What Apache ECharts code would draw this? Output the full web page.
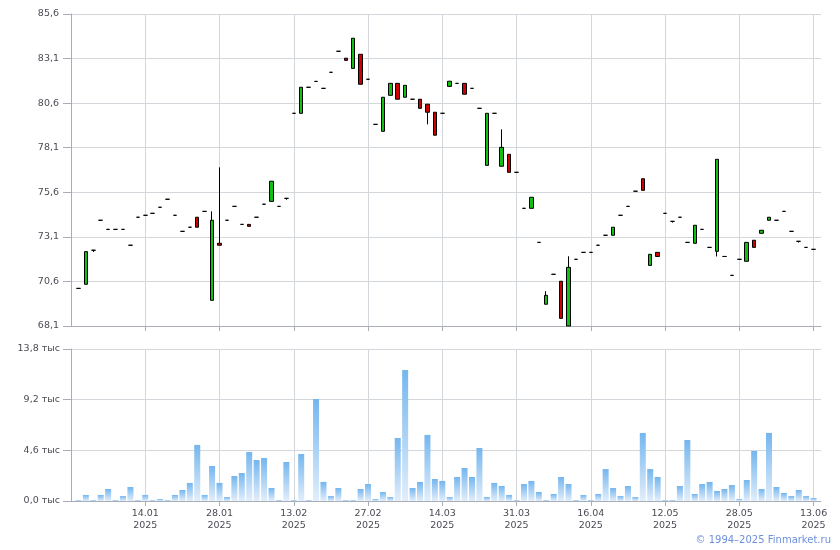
<!DOCTYPE html>
<html>
<head>
<meta charset="utf-8">
<script src="https://cdn.jsdelivr.net/npm/echarts@6/dist/echarts.min.js"></script>
<style>html,body{margin:0;padding:0;background:#fff;}#c{width:840px;height:550px;}</style>
</head>
<body>
<div id="c"></div>
<script>
// x tick labels (every 10th trading day, starting at day index 9)
const tickLabels = ['14.01','28.01','13.02','27.02','14.03','31.03','16.04','12.05','28.05','13.06'];
const tickYear = '2025';
const tickStart = 9, tickStep = 10;

// daily candles (100 trading days)
const openP = [70.21,70.44,72.35,74.03,73.52,73.52,73.52,72.63,74.20,74.31,
  74.42,74.76,75.21,74.31,73.41,73.64,74.20,74.53,69.54,72.74,
  74.03,74.81,73.80,73.80,74.20,74.93,75.09,74.81,75.26,80.03,
  80.03,81.49,81.82,81.43,82.33,83.51,83.12,82.55,83.34,81.94,
  79.41,79.02,81.04,81.71,80.93,80.82,80.82,80.54,80.09,80.03,
  81.54,81.71,81.71,81.43,80.31,77.11,80.03,77.06,77.73,76.72,
  74.70,74.70,72.79,69.32,71.00,70.61,68.10,71.84,72.23,72.23,
  72.63,73.19,73.19,74.31,74.81,75.66,76.36,71.50,72.23,74.42,
  73.97,74.20,72.79,72.74,73.52,72.51,72.29,72.00,70.94,71.84,
  71.73,72.91,73.30,74.03,74.03,74.53,73.41,72.85,72.51,72.40];
const closeP = [70.21,72.27,72.35,74.03,73.52,73.52,73.52,72.63,74.20,74.31,
  74.42,74.76,75.21,74.31,73.41,73.64,73.64,74.53,74.03,72.63,
  74.03,74.81,73.80,73.69,74.20,74.93,76.22,74.81,75.26,80.03,
  81.49,81.49,81.82,81.43,82.33,83.51,83.00,84.24,81.66,81.94,
  79.41,80.93,81.71,80.82,81.60,80.82,80.31,80.09,78.80,80.03,
  81.83,81.71,81.10,81.43,80.31,80.03,80.03,78.12,76.72,76.72,
  74.70,75.32,72.79,69.82,71.00,68.53,71.39,71.84,72.23,72.23,
  72.63,73.19,73.64,74.31,74.81,75.66,75.71,72.12,72.00,74.42,
  73.97,74.20,72.79,73.75,73.52,72.51,77.45,72.00,70.94,71.84,
  72.79,72.51,73.47,74.20,74.03,74.53,73.41,72.85,72.51,72.40];
const lowP = [70.21,70.44,72.25,74.03,73.52,73.52,73.52,72.63,74.20,74.31,
  74.42,74.76,75.21,74.31,73.41,73.64,73.64,74.53,69.54,72.63,
  74.03,74.81,73.80,73.69,74.20,74.93,75.09,74.81,75.18,80.03,
  80.03,81.49,81.82,81.43,82.33,83.51,83.00,82.55,81.66,81.94,
  79.41,79.02,81.04,80.82,80.93,80.82,80.31,79.41,78.80,80.03,
  81.54,81.71,81.10,81.43,80.31,77.11,80.03,77.06,76.72,76.72,
  74.70,74.70,72.79,69.32,71.00,68.53,68.10,71.84,72.23,72.23,
  72.63,73.19,73.19,74.31,74.81,75.66,75.71,71.50,72.00,74.42,
  73.90,74.20,72.79,72.74,73.52,72.51,72.00,72.00,70.94,71.84,
  71.73,72.51,73.30,74.03,74.03,74.53,73.41,72.78,72.51,72.40];
const highP = [70.21,72.27,72.35,74.03,73.52,73.52,73.52,72.63,74.20,74.31,
  74.42,74.76,75.21,74.31,73.41,73.64,74.20,74.53,74.53,77.00,
  74.03,74.81,73.80,73.80,74.20,74.93,76.22,74.81,75.26,80.03,
  81.49,81.49,81.82,81.43,82.33,83.51,83.12,84.24,83.34,81.94,
  79.41,80.93,81.71,81.71,81.60,80.82,80.82,80.54,80.09,80.03,
  81.83,81.71,81.71,81.43,80.31,80.03,80.03,79.13,77.73,76.72,
  74.70,75.32,72.79,70.05,71.00,70.61,72.01,71.84,72.23,72.23,
  72.63,73.19,73.64,74.31,74.81,75.66,76.36,72.12,72.23,74.42,
  73.97,74.20,72.79,73.75,73.52,72.51,77.45,72.00,70.94,71.84,
  72.79,72.91,73.47,74.20,74.03,74.53,73.41,72.85,72.51,72.40];
// volume, thousands
const volume = [0.08,0.55,0.08,0.55,1.09,0.08,0.45,1.27,0.08,0.55,
  0.08,0.18,0.08,0.55,1.00,1.64,5.09,0.55,3.18,1.64,
  0.36,2.27,2.54,4.45,3.72,3.90,1.18,0.08,3.54,0.08,
  4.27,0.08,9.26,1.73,0.45,1.18,0.08,0.08,1.09,1.54,
  0.18,0.82,0.36,5.72,11.90,1.18,1.73,6.00,2.00,1.82,
  0.36,2.18,3.00,2.18,4.81,0.36,1.64,1.36,0.55,0.08,
  1.54,1.82,0.82,0.08,0.64,2.18,1.54,0.08,0.55,0.08,
  0.64,2.90,1.18,0.45,1.36,0.36,6.18,2.90,2.18,0.08,
  0.08,1.36,5.54,0.64,1.54,1.73,0.91,1.09,1.45,0.18,
  1.91,4.54,1.09,6.18,1.27,0.73,0.45,1.00,0.45,0.27];

// build categories with one empty slot on each side
const n = openP.length;
const cats = [''];
for (let i = 0; i < n; i++) {
  const k = i - tickStart;
  cats.push(k >= 0 && k % tickStep === 0 ? tickLabels[k / tickStep] + '\n' + tickYear : '');
}
cats.push('');
const candleData = [['-','-','-','-']];
const volData = ['-'];
for (let i = 0; i < n; i++) {
  candleData.push([openP[i], closeP[i], lowP[i], highP[i]]);
  volData.push(volume[i]);
}
candleData.push(['-','-','-','-']);
volData.push('-');

const isTick = (idx) => idx >= 1 && (idx - 1 - tickStart) >= 0 && (idx - 1 - tickStart) % tickStep === 0;
const FONT = 'DejaVu Sans';
const gridLine = '#d3d7dc';
const axisCol = '#a9adb6';
const txtCol = '#4b4b55';

const chart = echarts.init(document.getElementById('c'), null, {renderer: 'canvas'});
chart.setOption({
  animation: false,
  backgroundColor: '#fff',
  grid: [
    {left: 71, right: 19, top: 14, height: 312},
    {left: 71, right: 19, top: 349, height: 152}
  ],
  xAxis: [
    {
      type: 'category', gridIndex: 0, data: cats, boundaryGap: false,
      axisLine: {show: true, lineStyle: {color: axisCol, width: 1}},
      axisTick: {show: true, interval: isTick, length: 5, lineStyle: {color: axisCol}},
      axisLabel: {show: false},
      splitLine: {show: true, interval: isTick, lineStyle: {color: gridLine, width: 1}}
    },
    {
      type: 'category', gridIndex: 1, data: cats, boundaryGap: false,
      axisLine: {show: true, lineStyle: {color: axisCol, width: 1}},
      axisTick: {show: true, interval: isTick, length: 5, lineStyle: {color: axisCol}},
      axisLabel: {show: true, interval: isTick, color: txtCol, fontFamily: FONT, fontSize: 9.5, lineHeight: 12, margin: 7},
      splitLine: {show: true, interval: isTick, lineStyle: {color: gridLine, width: 1}}
    }
  ],
  yAxis: [
    {
      type: 'value', gridIndex: 0, min: 68.1, max: 85.6, interval: 2.5, scale: true,
      axisLine: {show: true, lineStyle: {color: axisCol}},
      axisTick: {show: true, length: 8, lineStyle: {color: axisCol}},
      axisLabel: {color: txtCol, fontFamily: FONT, fontSize: 9.5, margin: 12,
        formatter: v => v.toFixed(1).replace('.', ',')},
      splitLine: {show: true, lineStyle: {color: gridLine}}
    },
    {
      type: 'value', gridIndex: 1, min: 0, max: 13.8, interval: 4.6,
      axisLine: {show: true, lineStyle: {color: axisCol}},
      axisTick: {show: true, length: 8, lineStyle: {color: axisCol}},
      axisLabel: {color: txtCol, fontFamily: FONT, fontSize: 9.5, margin: 11,
        formatter: v => v.toFixed(1).replace('.', ',') + ' тыс'},
      splitLine: {show: true, lineStyle: {color: gridLine}}
    }
  ],
  series: [
    {
      type: 'candlestick', xAxisIndex: 0, yAxisIndex: 0, data: candleData,
      barWidth: 4, clip: true,
      itemStyle: {
        color: '#11c011', color0: '#d10000',
        borderColor: '#000', borderColor0: '#000', borderColorDoji: '#000', borderWidth: 1
      }
    },
    {
      type: 'bar', xAxisIndex: 1, yAxisIndex: 1, data: volData, barWidth: 6,
      itemStyle: {
        color: new echarts.graphic.LinearGradient(0, 0, 0, 1, [
          {offset: 0, color: '#74b6ee'},
          {offset: 1, color: '#e2eefb'}
        ], false)
      }
    }
  ],
  graphic: [
    {type: 'text', right: 9, top: 535,
      style: {text: '© 1994–2025 Finmarket.ru', fill: '#6d90dc', font: '10px "DejaVu Sans"'}}
  ]
});
</script>
</body>
</html>
